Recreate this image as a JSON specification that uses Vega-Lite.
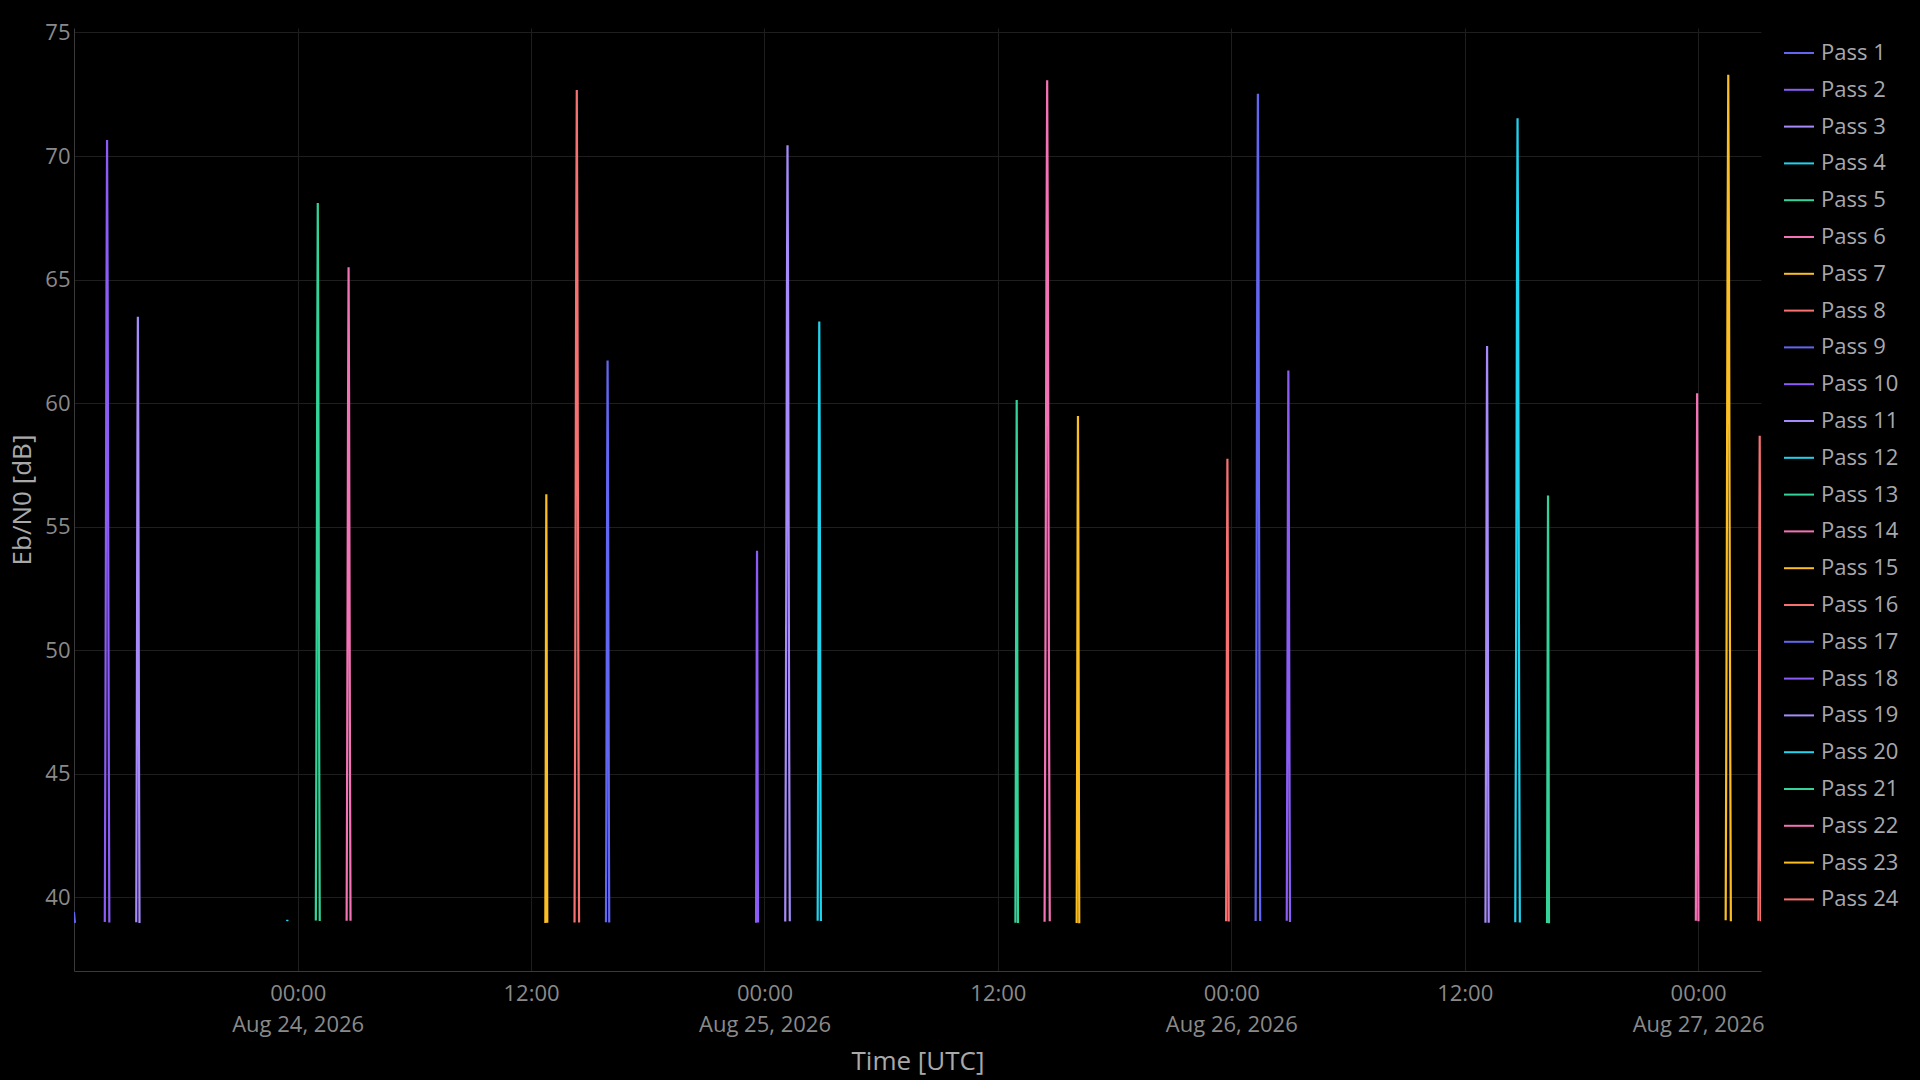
{
  "$schema": "https://vega.github.io/schema/vega-lite/v6.json",
  "autosize": {"type": "none"},
  "width": 1687,
  "height": 943,
  "padding": {"left": 74, "top": 28, "right": 159, "bottom": 109},
  "background": "#000000",
  "config": {
    "view": {"stroke": null},
    "font": "Open Sans",
    "axis": {
      "grid": true,
      "gridColor": "#1e1e1e",
      "gridWidth": 1,
      "domainColor": "#3a3a3a",
      "ticks": false,
      "labelColor": "#8a8a8a",
      "labelFontSize": 22,
      "labelFont": "Open Sans",
      "titleColor": "#a9a9a9",
      "titleFontSize": 26,
      "titleFont": "Open Sans",
      "titleFontWeight": "normal"
    },
    "legend": {
      "labelColor": "#a8a8ae",
      "labelFontSize": 22,
      "labelFont": "Open Sans"
    }
  },
  "data": {
    "values": [
      {"pass": "Pass 1", "time": "2026-08-23T12:30:00Z", "ebn0": 39.40},
      {"pass": "Pass 1", "time": "2026-08-23T12:31:30Z", "ebn0": 39.16},
      {"pass": "Pass 1", "time": "2026-08-23T12:33:00Z", "ebn0": 38.97},

      {"pass": "Pass 2", "time": "2026-08-23T14:05:00Z", "ebn0": 39.00},
      {"pass": "Pass 2", "time": "2026-08-23T14:06:45Z", "ebn0": 45.96},
      {"pass": "Pass 2", "time": "2026-08-23T14:08:30Z", "ebn0": 54.83},
      {"pass": "Pass 2", "time": "2026-08-23T14:10:15Z", "ebn0": 64.64},
      {"pass": "Pass 2", "time": "2026-08-23T14:12:00Z", "ebn0": 70.65},
      {"pass": "Pass 2", "time": "2026-08-23T14:13:45Z", "ebn0": 64.64},
      {"pass": "Pass 2", "time": "2026-08-23T14:15:30Z", "ebn0": 54.83},
      {"pass": "Pass 2", "time": "2026-08-23T14:17:15Z", "ebn0": 45.96},
      {"pass": "Pass 2", "time": "2026-08-23T14:19:00Z", "ebn0": 38.98},

      {"pass": "Pass 3", "time": "2026-08-23T15:42:00Z", "ebn0": 38.99},
      {"pass": "Pass 3", "time": "2026-08-23T15:43:15Z", "ebn0": 44.39},
      {"pass": "Pass 3", "time": "2026-08-23T15:44:30Z", "ebn0": 51.25},
      {"pass": "Pass 3", "time": "2026-08-23T15:45:45Z", "ebn0": 58.85},
      {"pass": "Pass 3", "time": "2026-08-23T15:47:00Z", "ebn0": 63.50},
      {"pass": "Pass 3", "time": "2026-08-23T15:48:15Z", "ebn0": 58.85},
      {"pass": "Pass 3", "time": "2026-08-23T15:49:30Z", "ebn0": 51.25},
      {"pass": "Pass 3", "time": "2026-08-23T15:50:45Z", "ebn0": 44.39},
      {"pass": "Pass 3", "time": "2026-08-23T15:52:00Z", "ebn0": 38.96},

      {"pass": "Pass 4", "time": "2026-08-23T23:27:30Z", "ebn0": 39.04},
      {"pass": "Pass 4", "time": "2026-08-23T23:28:00Z", "ebn0": 39.09},
      {"pass": "Pass 4", "time": "2026-08-23T23:28:30Z", "ebn0": 39.04},

      {"pass": "Pass 5", "time": "2026-08-24T00:56:00Z", "ebn0": 39.06},
      {"pass": "Pass 5", "time": "2026-08-24T00:57:30Z", "ebn0": 45.40},
      {"pass": "Pass 5", "time": "2026-08-24T00:59:00Z", "ebn0": 53.55},
      {"pass": "Pass 5", "time": "2026-08-24T01:00:30Z", "ebn0": 62.57},
      {"pass": "Pass 5", "time": "2026-08-24T01:02:00Z", "ebn0": 68.10},
      {"pass": "Pass 5", "time": "2026-08-24T01:03:30Z", "ebn0": 62.57},
      {"pass": "Pass 5", "time": "2026-08-24T01:05:00Z", "ebn0": 53.55},
      {"pass": "Pass 5", "time": "2026-08-24T01:06:30Z", "ebn0": 45.40},
      {"pass": "Pass 5", "time": "2026-08-24T01:08:00Z", "ebn0": 39.04},

      {"pass": "Pass 6", "time": "2026-08-24T02:31:00Z", "ebn0": 39.05},
      {"pass": "Pass 6", "time": "2026-08-24T02:32:30Z", "ebn0": 44.83},
      {"pass": "Pass 6", "time": "2026-08-24T02:34:00Z", "ebn0": 52.25},
      {"pass": "Pass 6", "time": "2026-08-24T02:35:30Z", "ebn0": 60.47},
      {"pass": "Pass 6", "time": "2026-08-24T02:37:00Z", "ebn0": 65.50},
      {"pass": "Pass 6", "time": "2026-08-24T02:38:30Z", "ebn0": 60.47},
      {"pass": "Pass 6", "time": "2026-08-24T02:40:00Z", "ebn0": 52.25},
      {"pass": "Pass 6", "time": "2026-08-24T02:41:30Z", "ebn0": 44.83},
      {"pass": "Pass 6", "time": "2026-08-24T02:43:00Z", "ebn0": 39.05},

      {"pass": "Pass 7", "time": "2026-08-24T12:44:00Z", "ebn0": 38.96},
      {"pass": "Pass 7", "time": "2026-08-24T12:44:45Z", "ebn0": 42.81},
      {"pass": "Pass 7", "time": "2026-08-24T12:45:30Z", "ebn0": 47.65},
      {"pass": "Pass 7", "time": "2026-08-24T12:46:15Z", "ebn0": 53.01},
      {"pass": "Pass 7", "time": "2026-08-24T12:47:00Z", "ebn0": 56.31},
      {"pass": "Pass 7", "time": "2026-08-24T12:47:45Z", "ebn0": 53.01},
      {"pass": "Pass 7", "time": "2026-08-24T12:48:30Z", "ebn0": 47.65},
      {"pass": "Pass 7", "time": "2026-08-24T12:49:15Z", "ebn0": 42.81},
      {"pass": "Pass 7", "time": "2026-08-24T12:50:00Z", "ebn0": 38.97},

      {"pass": "Pass 8", "time": "2026-08-24T14:14:00Z", "ebn0": 38.98},
      {"pass": "Pass 8", "time": "2026-08-24T14:15:45Z", "ebn0": 46.41},
      {"pass": "Pass 8", "time": "2026-08-24T14:17:30Z", "ebn0": 55.84},
      {"pass": "Pass 8", "time": "2026-08-24T14:19:15Z", "ebn0": 66.27},
      {"pass": "Pass 8", "time": "2026-08-24T14:21:00Z", "ebn0": 72.67},
      {"pass": "Pass 8", "time": "2026-08-24T14:22:45Z", "ebn0": 66.27},
      {"pass": "Pass 8", "time": "2026-08-24T14:24:30Z", "ebn0": 55.84},
      {"pass": "Pass 8", "time": "2026-08-24T14:26:15Z", "ebn0": 46.41},
      {"pass": "Pass 8", "time": "2026-08-24T14:28:00Z", "ebn0": 38.98},

      {"pass": "Pass 9", "time": "2026-08-24T15:51:00Z", "ebn0": 38.99},
      {"pass": "Pass 9", "time": "2026-08-24T15:52:15Z", "ebn0": 44.00},
      {"pass": "Pass 9", "time": "2026-08-24T15:53:30Z", "ebn0": 50.36},
      {"pass": "Pass 9", "time": "2026-08-24T15:54:45Z", "ebn0": 57.40},
      {"pass": "Pass 9", "time": "2026-08-24T15:56:00Z", "ebn0": 61.72},
      {"pass": "Pass 9", "time": "2026-08-24T15:57:15Z", "ebn0": 57.40},
      {"pass": "Pass 9", "time": "2026-08-24T15:58:30Z", "ebn0": 50.36},
      {"pass": "Pass 9", "time": "2026-08-24T15:59:45Z", "ebn0": 44.00},
      {"pass": "Pass 9", "time": "2026-08-24T16:01:00Z", "ebn0": 38.98},

      {"pass": "Pass 10", "time": "2026-08-24T23:34:00Z", "ebn0": 38.97},
      {"pass": "Pass 10", "time": "2026-08-24T23:34:45Z", "ebn0": 42.31},
      {"pass": "Pass 10", "time": "2026-08-24T23:35:30Z", "ebn0": 46.52},
      {"pass": "Pass 10", "time": "2026-08-24T23:36:15Z", "ebn0": 51.17},
      {"pass": "Pass 10", "time": "2026-08-24T23:37:00Z", "ebn0": 54.03},
      {"pass": "Pass 10", "time": "2026-08-24T23:37:45Z", "ebn0": 51.17},
      {"pass": "Pass 10", "time": "2026-08-24T23:38:30Z", "ebn0": 46.52},
      {"pass": "Pass 10", "time": "2026-08-24T23:39:15Z", "ebn0": 42.31},
      {"pass": "Pass 10", "time": "2026-08-24T23:40:00Z", "ebn0": 38.98},

      {"pass": "Pass 11", "time": "2026-08-25T01:04:00Z", "ebn0": 39.02},
      {"pass": "Pass 11", "time": "2026-08-25T01:05:45Z", "ebn0": 45.92},
      {"pass": "Pass 11", "time": "2026-08-25T01:07:30Z", "ebn0": 54.72},
      {"pass": "Pass 11", "time": "2026-08-25T01:09:15Z", "ebn0": 64.47},
      {"pass": "Pass 11", "time": "2026-08-25T01:11:00Z", "ebn0": 70.44},
      {"pass": "Pass 11", "time": "2026-08-25T01:12:45Z", "ebn0": 64.47},
      {"pass": "Pass 11", "time": "2026-08-25T01:14:30Z", "ebn0": 54.72},
      {"pass": "Pass 11", "time": "2026-08-25T01:16:15Z", "ebn0": 45.92},
      {"pass": "Pass 11", "time": "2026-08-25T01:18:00Z", "ebn0": 39.03},

      {"pass": "Pass 12", "time": "2026-08-25T02:44:00Z", "ebn0": 39.05},
      {"pass": "Pass 12", "time": "2026-08-25T02:45:15Z", "ebn0": 44.35},
      {"pass": "Pass 12", "time": "2026-08-25T02:46:30Z", "ebn0": 51.15},
      {"pass": "Pass 12", "time": "2026-08-25T02:47:45Z", "ebn0": 58.68},
      {"pass": "Pass 12", "time": "2026-08-25T02:49:00Z", "ebn0": 63.30},
      {"pass": "Pass 12", "time": "2026-08-25T02:50:15Z", "ebn0": 58.68},
      {"pass": "Pass 12", "time": "2026-08-25T02:51:30Z", "ebn0": 51.15},
      {"pass": "Pass 12", "time": "2026-08-25T02:52:45Z", "ebn0": 44.35},
      {"pass": "Pass 12", "time": "2026-08-25T02:54:00Z", "ebn0": 39.04},

      {"pass": "Pass 13", "time": "2026-08-25T12:54:00Z", "ebn0": 38.97},
      {"pass": "Pass 13", "time": "2026-08-25T12:55:00Z", "ebn0": 43.65},
      {"pass": "Pass 13", "time": "2026-08-25T12:56:00Z", "ebn0": 49.57},
      {"pass": "Pass 13", "time": "2026-08-25T12:57:00Z", "ebn0": 56.12},
      {"pass": "Pass 13", "time": "2026-08-25T12:58:00Z", "ebn0": 60.13},
      {"pass": "Pass 13", "time": "2026-08-25T12:59:00Z", "ebn0": 56.12},
      {"pass": "Pass 13", "time": "2026-08-25T13:00:00Z", "ebn0": 49.57},
      {"pass": "Pass 13", "time": "2026-08-25T13:01:00Z", "ebn0": 43.65},
      {"pass": "Pass 13", "time": "2026-08-25T13:02:00Z", "ebn0": 38.96},

      {"pass": "Pass 14", "time": "2026-08-25T14:24:00Z", "ebn0": 39.01},
      {"pass": "Pass 14", "time": "2026-08-25T14:26:00Z", "ebn0": 46.50},
      {"pass": "Pass 14", "time": "2026-08-25T14:28:00Z", "ebn0": 56.04},
      {"pass": "Pass 14", "time": "2026-08-25T14:30:00Z", "ebn0": 66.60},
      {"pass": "Pass 14", "time": "2026-08-25T14:32:00Z", "ebn0": 73.07},
      {"pass": "Pass 14", "time": "2026-08-25T14:34:00Z", "ebn0": 66.60},
      {"pass": "Pass 14", "time": "2026-08-25T14:36:00Z", "ebn0": 56.04},
      {"pass": "Pass 14", "time": "2026-08-25T14:38:00Z", "ebn0": 46.50},
      {"pass": "Pass 14", "time": "2026-08-25T14:40:00Z", "ebn0": 39.03},

      {"pass": "Pass 15", "time": "2026-08-25T16:03:00Z", "ebn0": 38.96},
      {"pass": "Pass 15", "time": "2026-08-25T16:04:00Z", "ebn0": 43.51},
      {"pass": "Pass 15", "time": "2026-08-25T16:05:00Z", "ebn0": 49.24},
      {"pass": "Pass 15", "time": "2026-08-25T16:06:00Z", "ebn0": 55.59},
      {"pass": "Pass 15", "time": "2026-08-25T16:07:00Z", "ebn0": 59.48},
      {"pass": "Pass 15", "time": "2026-08-25T16:08:00Z", "ebn0": 55.59},
      {"pass": "Pass 15", "time": "2026-08-25T16:09:00Z", "ebn0": 49.24},
      {"pass": "Pass 15", "time": "2026-08-25T16:10:00Z", "ebn0": 43.51},
      {"pass": "Pass 15", "time": "2026-08-25T16:11:00Z", "ebn0": 38.95},

      {"pass": "Pass 16", "time": "2026-08-25T23:44:00Z", "ebn0": 39.03},
      {"pass": "Pass 16", "time": "2026-08-25T23:45:00Z", "ebn0": 43.13},
      {"pass": "Pass 16", "time": "2026-08-25T23:46:00Z", "ebn0": 48.38},
      {"pass": "Pass 16", "time": "2026-08-25T23:47:00Z", "ebn0": 54.19},
      {"pass": "Pass 16", "time": "2026-08-25T23:48:00Z", "ebn0": 57.75},
      {"pass": "Pass 16", "time": "2026-08-25T23:49:00Z", "ebn0": 54.19},
      {"pass": "Pass 16", "time": "2026-08-25T23:50:00Z", "ebn0": 48.38},
      {"pass": "Pass 16", "time": "2026-08-25T23:51:00Z", "ebn0": 43.13},
      {"pass": "Pass 16", "time": "2026-08-25T23:52:00Z", "ebn0": 39.02},

      {"pass": "Pass 17", "time": "2026-08-26T01:15:00Z", "ebn0": 39.04},
      {"pass": "Pass 17", "time": "2026-08-26T01:16:45Z", "ebn0": 46.37},
      {"pass": "Pass 17", "time": "2026-08-26T01:18:30Z", "ebn0": 55.76},
      {"pass": "Pass 17", "time": "2026-08-26T01:20:15Z", "ebn0": 66.15},
      {"pass": "Pass 17", "time": "2026-08-26T01:22:00Z", "ebn0": 72.52},
      {"pass": "Pass 17", "time": "2026-08-26T01:23:45Z", "ebn0": 66.15},
      {"pass": "Pass 17", "time": "2026-08-26T01:25:30Z", "ebn0": 55.76},
      {"pass": "Pass 17", "time": "2026-08-26T01:27:15Z", "ebn0": 46.37},
      {"pass": "Pass 17", "time": "2026-08-26T01:29:00Z", "ebn0": 39.04},

      {"pass": "Pass 18", "time": "2026-08-26T02:51:00Z", "ebn0": 39.05},
      {"pass": "Pass 18", "time": "2026-08-26T02:52:15Z", "ebn0": 43.91},
      {"pass": "Pass 18", "time": "2026-08-26T02:53:30Z", "ebn0": 50.16},
      {"pass": "Pass 18", "time": "2026-08-26T02:54:45Z", "ebn0": 57.08},
      {"pass": "Pass 18", "time": "2026-08-26T02:56:00Z", "ebn0": 61.32},
      {"pass": "Pass 18", "time": "2026-08-26T02:57:15Z", "ebn0": 57.08},
      {"pass": "Pass 18", "time": "2026-08-26T02:58:30Z", "ebn0": 50.16},
      {"pass": "Pass 18", "time": "2026-08-26T02:59:45Z", "ebn0": 43.91},
      {"pass": "Pass 18", "time": "2026-08-26T03:01:00Z", "ebn0": 39.00},

      {"pass": "Pass 19", "time": "2026-08-26T13:04:00Z", "ebn0": 38.97},
      {"pass": "Pass 19", "time": "2026-08-26T13:05:15Z", "ebn0": 44.13},
      {"pass": "Pass 19", "time": "2026-08-26T13:06:30Z", "ebn0": 50.66},
      {"pass": "Pass 19", "time": "2026-08-26T13:07:45Z", "ebn0": 57.88},
      {"pass": "Pass 19", "time": "2026-08-26T13:09:00Z", "ebn0": 62.31},
      {"pass": "Pass 19", "time": "2026-08-26T13:10:15Z", "ebn0": 57.88},
      {"pass": "Pass 19", "time": "2026-08-26T13:11:30Z", "ebn0": 50.66},
      {"pass": "Pass 19", "time": "2026-08-26T13:12:45Z", "ebn0": 44.13},
      {"pass": "Pass 19", "time": "2026-08-26T13:14:00Z", "ebn0": 38.97},

      {"pass": "Pass 20", "time": "2026-08-26T14:36:00Z", "ebn0": 38.99},
      {"pass": "Pass 20", "time": "2026-08-26T14:37:45Z", "ebn0": 46.16},
      {"pass": "Pass 20", "time": "2026-08-26T14:39:30Z", "ebn0": 55.27},
      {"pass": "Pass 20", "time": "2026-08-26T14:41:15Z", "ebn0": 65.35},
      {"pass": "Pass 20", "time": "2026-08-26T14:43:00Z", "ebn0": 71.53},
      {"pass": "Pass 20", "time": "2026-08-26T14:44:45Z", "ebn0": 65.35},
      {"pass": "Pass 20", "time": "2026-08-26T14:46:30Z", "ebn0": 55.27},
      {"pass": "Pass 20", "time": "2026-08-26T14:48:15Z", "ebn0": 46.16},
      {"pass": "Pass 20", "time": "2026-08-26T14:50:00Z", "ebn0": 38.98},

      {"pass": "Pass 21", "time": "2026-08-26T16:14:00Z", "ebn0": 38.96},
      {"pass": "Pass 21", "time": "2026-08-26T16:14:45Z", "ebn0": 42.80},
      {"pass": "Pass 21", "time": "2026-08-26T16:15:30Z", "ebn0": 47.63},
      {"pass": "Pass 21", "time": "2026-08-26T16:16:15Z", "ebn0": 52.98},
      {"pass": "Pass 21", "time": "2026-08-26T16:17:00Z", "ebn0": 56.26},
      {"pass": "Pass 21", "time": "2026-08-26T16:17:45Z", "ebn0": 52.98},
      {"pass": "Pass 21", "time": "2026-08-26T16:18:30Z", "ebn0": 47.63},
      {"pass": "Pass 21", "time": "2026-08-26T16:19:15Z", "ebn0": 42.80},
      {"pass": "Pass 21", "time": "2026-08-26T16:20:00Z", "ebn0": 38.95},

      {"pass": "Pass 22", "time": "2026-08-26T23:53:00Z", "ebn0": 39.05},
      {"pass": "Pass 22", "time": "2026-08-26T23:54:00Z", "ebn0": 43.71},
      {"pass": "Pass 22", "time": "2026-08-26T23:55:00Z", "ebn0": 49.70},
      {"pass": "Pass 22", "time": "2026-08-26T23:56:00Z", "ebn0": 56.33},
      {"pass": "Pass 22", "time": "2026-08-26T23:57:00Z", "ebn0": 60.40},
      {"pass": "Pass 22", "time": "2026-08-26T23:58:00Z", "ebn0": 56.33},
      {"pass": "Pass 22", "time": "2026-08-26T23:59:00Z", "ebn0": 49.70},
      {"pass": "Pass 22", "time": "2026-08-27T00:00:00Z", "ebn0": 43.71},
      {"pass": "Pass 22", "time": "2026-08-27T00:01:00Z", "ebn0": 39.03},

      {"pass": "Pass 23", "time": "2026-08-27T01:25:00Z", "ebn0": 39.07},
      {"pass": "Pass 23", "time": "2026-08-27T01:27:00Z", "ebn0": 46.54},
      {"pass": "Pass 23", "time": "2026-08-27T01:29:00Z", "ebn0": 56.15},
      {"pass": "Pass 23", "time": "2026-08-27T01:31:00Z", "ebn0": 66.77},
      {"pass": "Pass 23", "time": "2026-08-27T01:33:00Z", "ebn0": 73.29},
      {"pass": "Pass 23", "time": "2026-08-27T01:35:00Z", "ebn0": 66.77},
      {"pass": "Pass 23", "time": "2026-08-27T01:37:00Z", "ebn0": 56.15},
      {"pass": "Pass 23", "time": "2026-08-27T01:39:00Z", "ebn0": 46.54},
      {"pass": "Pass 23", "time": "2026-08-27T01:41:00Z", "ebn0": 39.03},

      {"pass": "Pass 24", "time": "2026-08-27T03:06:00Z", "ebn0": 39.05},
      {"pass": "Pass 24", "time": "2026-08-27T03:07:00Z", "ebn0": 43.33},
      {"pass": "Pass 24", "time": "2026-08-27T03:08:00Z", "ebn0": 48.84},
      {"pass": "Pass 24", "time": "2026-08-27T03:09:00Z", "ebn0": 54.94},
      {"pass": "Pass 24", "time": "2026-08-27T03:10:00Z", "ebn0": 58.68},
      {"pass": "Pass 24", "time": "2026-08-27T03:11:00Z", "ebn0": 54.94},
      {"pass": "Pass 24", "time": "2026-08-27T03:12:00Z", "ebn0": 48.84},
      {"pass": "Pass 24", "time": "2026-08-27T03:13:00Z", "ebn0": 43.33},
      {"pass": "Pass 24", "time": "2026-08-27T03:14:00Z", "ebn0": 39.03}
    ]
  },
  "mark": {"type": "line", "strokeWidth": 2.2, "clip": true},
  "encoding": {
    "x": {
      "field": "time",
      "type": "temporal",
      "scale": {
        "type": "utc",
        "domain": [
          {"year": 2026, "month": 8, "date": 23, "hours": 12, "minutes": 30, "utc": true},
          {"year": 2026, "month": 8, "date": 27, "hours": 3, "minutes": 14, "utc": true}
        ]
      },
      "axis": {
        "title": "Time [UTC]",
        "values": [
          {"year": 2026, "month": 8, "date": 24, "hours": 0, "utc": true},
          {"year": 2026, "month": 8, "date": 24, "hours": 12, "utc": true},
          {"year": 2026, "month": 8, "date": 25, "hours": 0, "utc": true},
          {"year": 2026, "month": 8, "date": 25, "hours": 12, "utc": true},
          {"year": 2026, "month": 8, "date": 26, "hours": 0, "utc": true},
          {"year": 2026, "month": 8, "date": 26, "hours": 12, "utc": true},
          {"year": 2026, "month": 8, "date": 27, "hours": 0, "utc": true}
        ],
        "labelExpr": "utchours(datum.value) == 0 ? [utcFormat(datum.value, '%H:%M'), utcFormat(datum.value, '%b %d, %Y')] : utcFormat(datum.value, '%H:%M')",
        "labelLineHeight": 31,
        "labelPadding": 12.5,
        "titlePadding": 12.5,
        "labelFlush": false,
        "labelOverlap": false
      }
    },
    "y": {
      "field": "ebn0",
      "type": "quantitative",
      "scale": {"domain": [37.02, 75.18], "nice": false, "zero": false},
      "axis": {
        "title": "Eb/N0 [dB]",
        "values": [40, 45, 50, 55, 60, 65, 70, 75],
        "labelPadding": 4,
        "titlePadding": 9
      }
    },
    "color": {
      "field": "pass",
      "type": "nominal",
      "sort": null,
      "scale": {
        "domain": ["Pass 1", "Pass 2", "Pass 3", "Pass 4", "Pass 5", "Pass 6", "Pass 7", "Pass 8", "Pass 9", "Pass 10", "Pass 11", "Pass 12", "Pass 13", "Pass 14", "Pass 15", "Pass 16", "Pass 17", "Pass 18", "Pass 19", "Pass 20", "Pass 21", "Pass 22", "Pass 23", "Pass 24"],
        "range": ["#6366F1", "#8B5CF6", "#A78BFA", "#22D3EE", "#34D399", "#F472B6", "#FBBF24", "#F87171", "#6366F1", "#8B5CF6", "#A78BFA", "#22D3EE", "#34D399", "#F472B6", "#FBBF24", "#F87171", "#6366F1", "#8B5CF6", "#A78BFA", "#22D3EE", "#34D399", "#F472B6", "#FBBF24", "#F87171"]
      },
      "legend": {
        "title": null,
        "orient": "none",
        "legendX": 1709,
        "legendY": 9,
        "direction": "vertical",
        "symbolType": "stroke",
        "symbolSize": 900,
        "symbolStrokeWidth": 2,
        "labelOffset": 6,
        "rowPadding": 9.8,
        "padding": 0,
        "labelLimit": 200
      }
    }
  }
}
